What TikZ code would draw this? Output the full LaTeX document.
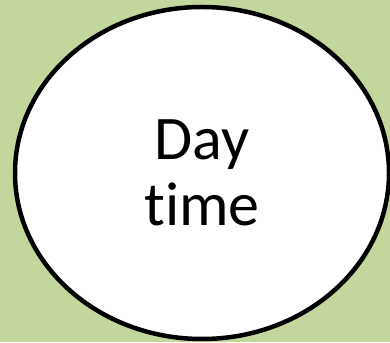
\documentclass[tikz,border=0pt]{standalone}
\usepackage{fontspec}
\setmainfont[Ligatures=NoCommon]{Carlito}
\usetikzlibrary{shapes.geometric}
\definecolor{olivebg}{HTML}{C3D69B}

\begin{document}
\begin{tikzpicture}[
  x=1pt, y=1pt,
  phase/.style={ellipse, draw=black, line width=4.5pt, fill=white,
                minimum width=374pt, minimum height=332pt, inner sep=0pt,
                align=center, font=\fontsize{62}{66}\selectfont}
]
% ---- fond ------------------------------------------------------------
\fill[olivebg] (0,0) rectangle (390,342);
\useasboundingbox (0,0) rectangle (390,342);
% ---- ellipse ---------------------------------------------------------
\node[phase, text depth=0pt] (day) at (202,169) {Day\\time};
\end{tikzpicture}
\end{document}
